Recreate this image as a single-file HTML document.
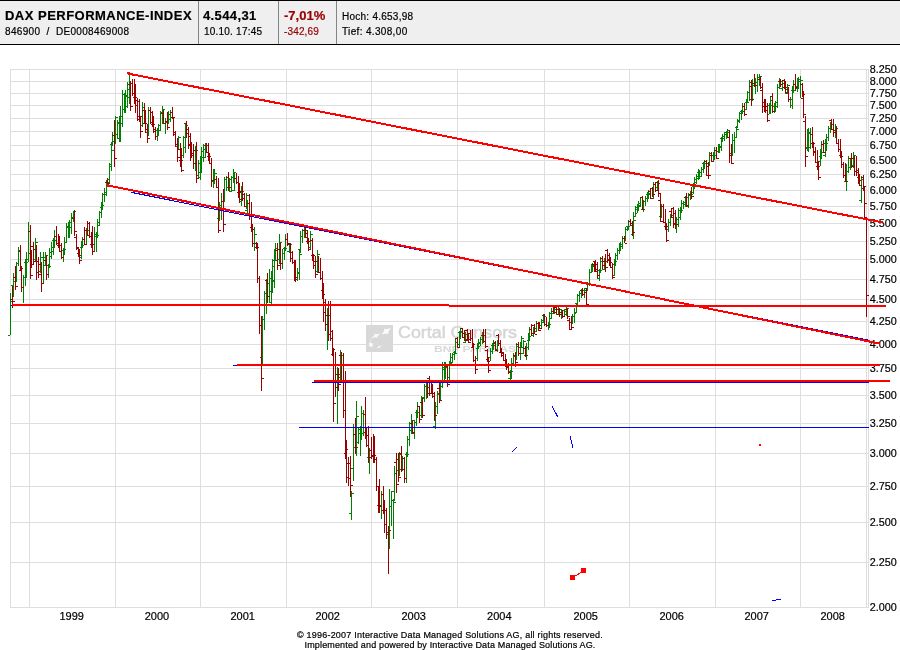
<!DOCTYPE html>
<html lang="de"><head><meta charset="utf-8"><title>DAX PERFORMANCE-INDEX</title>
<style>
html,body{margin:0;padding:0;background:#fff}
body{width:900px;height:650px;position:relative;overflow:hidden;font-family:"Liberation Sans",Arial,sans-serif;color:#000}
#hd{position:absolute;left:0;top:0;width:900px;height:43px;background:#efefef;border-top:1px solid #000;border-bottom:1px solid #000}
#hd .c{position:absolute;top:0;height:43px;border-left:1px solid #848484}
#hd .c.first{border-left:none}
#hd span{position:absolute;white-space:nowrap;line-height:1;-webkit-text-stroke:.2px currentColor}
.b{font-weight:bold;font-size:13px;top:8px}
.s{font-size:10px;top:26px}
.neg{color:#990000}
#ft{position:absolute;left:0;top:629.5px;-webkit-text-stroke:.2px #000;width:900px;text-align:center;font-size:9px;line-height:10px;}
</style></head><body>
<div id="hd">
<div class="c first" style="left:0;width:198px"><span class="b" style="left:5px;letter-spacing:0.48px" id="t1">DAX PERFORMANCE-INDEX</span><span class="s" style="left:5px;letter-spacing:0.33px" id="t2">846900 &nbsp;/ &nbsp;DE0008469008</span></div>
<div class="c" style="left:198px;width:79px"><span class="b" style="left:4px;letter-spacing:0.39px" id="t3">4.544,31</span><span class="s" style="left:5px;letter-spacing:0.22px" id="t4">10.10. 17:45</span></div>
<div class="c" style="left:278px;width:57px"><span class="b neg" style="left:5px;letter-spacing:0.03px" id="t5">-7,01%</span><span class="s neg" style="left:5px;letter-spacing:0.15px" id="t6">-342,69</span></div>
<div class="c" style="left:336px;width:563px"><span class="s" style="left:5px;top:11px;letter-spacing:0.25px" id="t7">Hoch: 4.653,98</span><span class="s" style="left:5px;top:26px;letter-spacing:0.34px" id="t8">Tief: 4.308,00</span></div>
</div>
<svg width="900" height="605" viewBox="0 45 900 605" style="position:absolute;left:0;top:45px" font-family="'Liberation Sans',Arial,sans-serif" font-size="11" fill="#000">
<g shape-rendering="crispEdges"><path d="M10 607.5H869M10 562.5H869M10 522.5H869M10 486.5H869M10 453.5H869M10 423.5H869M10 395.5H869M10 368.5H869M10 344.5H869M10 321.5H869M10 299.5H869M10 279.5H869M10 259.5H869M10 241.5H869M10 223.5H869M10 206.5H869M10 190.5H869M10 174.5H869M10 160.5H869M10 145.5H869M10 131.5H869M10 118.5H869M10 105.5H869M10 93.5H869M10 81.5H869M10 69.5H869M29.5 69V608M115.5 69V608M200.5 69V608M286.5 69V608M371.5 69V608M457.5 69V608M544.5 69V608M629.5 69V608M715.5 69V608M800.5 69V608M10.5 69V608M866.5 69V608M868.5 69V608" stroke="#dedede" fill="none"/></g>
<g><rect x="366" y="325" width="27" height="27" fill="#d8d8d8"/><polygon points="390.9,328.1 388.4,331.7 388.3,334.1 385.9,333.4 381.7,334.5 384.2,330.9 384.3,328.5 386.7,329.2" fill="#fff" opacity="0.95"/><polygon points="380.4,333.5 377.5,336.3 377.2,338.1 375.5,337.3 371.6,338.1 374.5,335.3 374.8,333.5 376.5,334.3" fill="#fff" opacity="0.85"/><polygon points="372.6,347.6 370.6,346.4 368.7,346.1 369.4,344.4 369.4,342.0 371.4,343.2 373.3,343.5 372.6,345.2" fill="#fff" opacity="0.85"/><polygon points="382.0,345.3 380.0,347.1 379.8,348.0 379.0,347.7 376.4,348.5 378.4,346.7 378.6,345.8 379.4,346.1" fill="#fff" opacity="0.85"/><path d="M372.500 337.500q-3.500 3.500-2.500 7" stroke="#fff" stroke-width=".8" fill="none" opacity=".45"/><text x="398" y="337.600" font-family="'Liberation Sans',sans-serif" fill="#d6d6d6" stroke="#d6d6d6" stroke-width=".5" textLength="119" lengthAdjust="spacingAndGlyphs" style="font-size:17px">Cortal Consors</text><text x="434" y="351.800" font-family="'Liberation Sans',sans-serif" font-weight="bold" fill="#d8d8d8" textLength="82" lengthAdjust="spacingAndGlyphs" style="font-size:9.500px">BNP PARIBAS</text></g>
<g shape-rendering="crispEdges">
<path d="M10.5 293V335M8 335.5h2M11 301.5h2M13.5 273V297M11 285.5h2M14 277.5h2M16.5 262V282M14 281.5h2M17 263.5h2M18.5 247V266M16 263.5h2M19 250.5h2M23.5 275V303M21 287.5h2M24 277.5h2M25.5 259V286M23 277.5h2M26 262.5h2M26.5 252V278M24 262.5h2M27 259.5h2M28.5 222V262M26 259.5h2M29 231.5h2M35.5 238V262M33 259.5h2M36 242.5h2M40.5 252V273M38 271.5h2M41 257.5h2M43.5 252V283M41 283.5h2M44 257.5h2M45.5 252V266M43 265.5h2M46 255.5h2M48.5 264V278M46 274.5h2M49 266.5h2M49.5 248V268M47 265.5h2M50 252.5h2M51.5 242V259M49 256.5h2M52 247.5h2M53.5 238V255M51 251.5h2M54 240.5h2M54.5 230V248M52 240.5h2M55 236.5h2M63.5 248V262M61 257.5h2M64 249.5h2M64.5 237V255M62 250.5h2M65 242.5h2M66.5 223V243M64 242.5h2M67 226.5h2M68.5 222V238M66 226.5h2M69 227.5h2M69.5 220V238M67 227.5h2M70 222.5h2M71.5 213V234M69 222.5h2M72 217.5h2M73.5 211V222M71 217.5h2M74 211.5h2M81.5 241V259M79 257.5h2M82 245.5h2M82.5 237V248M80 247.5h2M83 239.5h2M86.5 228V245M84 244.5h2M87 230.5h2M94.5 227V252M92 251.5h2M95 234.5h2M96.5 232V252M94 234.5h2M97 235.5h2M97.5 219V238M95 236.5h2M98 222.5h2M99.5 211V226M97 225.5h2M100 212.5h2M101.5 202V218M99 212.5h2M102 205.5h2M102.5 193V210M100 207.5h2M103 194.5h2M104.5 188V202M102 194.5h2M105 192.5h2M106.5 180V196M104 194.5h2M107 182.5h2M109.5 163V184M107 179.5h2M110 166.5h2M111.5 142V171M109 164.5h2M112 150.5h2M112.5 132V146M110 144.5h2M113 135.5h2M115.5 116V144M113 141.5h2M116 117.5h2M117.5 120V138M115 134.5h2M118 122.5h2M119.5 116V142M117 138.5h2M120 123.5h2M120.5 106V142M118 123.5h2M121 116.5h2M122.5 90V127M120 116.5h2M123 94.5h2M124.5 93V113M122 109.5h2M125 95.5h2M125.5 90V113M123 109.5h2M126 96.5h2M127.5 82V108M125 106.5h2M128 89.5h2M129.5 74V104M127 97.5h2M130 83.5h2M142.5 102V127M140 125.5h2M143 107.5h2M148.5 107V136M146 132.5h2M149 110.5h2M157.5 128V141M155 136.5h2M158 130.5h2M158.5 124V136M156 130.5h2M159 125.5h2M160.5 111V131M158 125.5h2M161 112.5h2M162.5 106V124M160 112.5h2M163 109.5h2M165.5 118V134M163 123.5h2M166 121.5h2M168.5 111V124M166 122.5h2M169 114.5h2M170.5 110V122M168 119.5h2M171 112.5h2M178.5 136V149M176 146.5h2M179 137.5h2M183.5 136V158M181 155.5h2M184 137.5h2M185.5 123V153M183 147.5h2M186 125.5h2M195.5 146V171M193 163.5h2M196 150.5h2M198.5 160V178M196 175.5h2M199 163.5h2M200.5 156V180M198 177.5h2M201 157.5h2M201.5 147V173M199 172.5h2M202 151.5h2M203.5 144V162M201 151.5h2M204 149.5h2M205.5 143V158M203 157.5h2M206 145.5h2M213.5 169V188M211 180.5h2M214 173.5h2M214.5 169V184M212 181.5h2M215 173.5h2M219.5 202V221M217 218.5h2M220 205.5h2M221.5 193V220M219 205.5h2M222 201.5h2M224.5 177V202M222 201.5h2M225 179.5h2M226.5 176V191M224 179.5h2M227 177.5h2M229.5 178V192M227 187.5h2M230 179.5h2M231.5 176V192M229 191.5h2M232 177.5h2M233.5 169V183M231 177.5h2M234 172.5h2M234.5 173V191M232 190.5h2M235 178.5h2M241.5 186V206M239 201.5h2M242 191.5h2M246.5 193V209M244 206.5h2M247 195.5h2M247.5 200V213M245 210.5h2M248 203.5h2M254.5 227V251M252 243.5h2M255 234.5h2M262.5 316V364M260 357.5h2M263 319.5h2M264.5 291V330M262 319.5h2M265 293.5h2M266.5 279V314M264 293.5h2M267 283.5h2M269.5 269V303M267 296.5h2M270 278.5h2M271.5 271V304M269 302.5h2M272 281.5h2M272.5 259V293M270 291.5h2M273 266.5h2M274.5 249V288M272 280.5h2M275 260.5h2M275.5 243V260M273 260.5h2M276 248.5h2M279.5 234V264M277 259.5h2M280 242.5h2M282.5 249V269M280 263.5h2M283 253.5h2M284.5 247V260M282 253.5h2M285 248.5h2M285.5 234V251M283 248.5h2M286 239.5h2M289.5 243V253M287 251.5h2M290 244.5h2M297.5 268V281M295 277.5h2M298 272.5h2M299.5 249V280M297 273.5h2M300 254.5h2M300.5 231V253M298 249.5h2M301 236.5h2M302.5 229V243M300 236.5h2M303 230.5h2M304.5 228V238M302 230.5h2M305 230.5h2M310.5 231V249M308 247.5h2M311 234.5h2M317.5 250V273M315 271.5h2M318 254.5h2M327.5 308V350M325 324.5h2M328 315.5h2M337.5 367V424M335 387.5h2M338 374.5h2M340.5 350V381M338 377.5h2M341 355.5h2M351.5 491V520M349 513.5h2M352 493.5h2M353.5 424V481M351 468.5h2M354 434.5h2M356.5 401V456M354 447.5h2M357 416.5h2M358.5 427V444M356 442.5h2M359 429.5h2M360.5 426V456M358 429.5h2M361 433.5h2M361.5 406V440M359 433.5h2M362 413.5h2M363.5 410V436M361 413.5h2M364 414.5h2M369.5 448V474M367 457.5h2M370 450.5h2M381.5 491V519M379 506.5h2M382 494.5h2M389.5 489V549M387 534.5h2M390 506.5h2M391.5 491V526M389 506.5h2M392 500.5h2M393.5 499V539M391 500.5h2M394 502.5h2M394.5 466V501M392 491.5h2M395 473.5h2M399.5 452V476M397 470.5h2M400 454.5h2M402.5 456V471M400 469.5h2M403 458.5h2M406.5 452V483M404 478.5h2M407 454.5h2M407.5 436V457M405 454.5h2M408 439.5h2M409.5 422V446M407 439.5h2M410 423.5h2M411.5 414V434M409 430.5h2M412 420.5h2M414.5 420V439M412 433.5h2M415 422.5h2M416.5 410V426M414 422.5h2M417 412.5h2M417.5 402V418M415 412.5h2M418 406.5h2M421.5 396V418M419 415.5h2M422 397.5h2M424.5 384V402M422 398.5h2M425 386.5h2M426.5 383V399M424 386.5h2M427 387.5h2M435.5 402V429M433 426.5h2M436 406.5h2M437.5 391V414M435 406.5h2M438 393.5h2M440.5 381V400M438 394.5h2M441 386.5h2M442.5 362V388M440 386.5h2M443 369.5h2M444.5 362V380M442 369.5h2M445 367.5h2M445.5 362V379M443 367.5h2M446 366.5h2M449.5 361V380M447 377.5h2M450 363.5h2M450.5 353V366M448 365.5h2M451 357.5h2M452.5 353V363M450 362.5h2M453 354.5h2M454.5 351V360M452 354.5h2M455 353.5h2M455.5 339V354M453 352.5h2M456 342.5h2M459.5 331V347M457 344.5h2M460 332.5h2M460.5 328V339M458 332.5h2M461 331.5h2M465.5 332V343M463 342.5h2M466 334.5h2M477.5 343V361M475 358.5h2M478 346.5h2M478.5 339V349M476 348.5h2M479 342.5h2M480.5 337V346M478 343.5h2M481 339.5h2M482.5 332V344M480 339.5h2M483 335.5h2M490.5 348V361M488 357.5h2M491 351.5h2M492.5 343V354M490 351.5h2M493 345.5h2M493.5 340V350M491 345.5h2M494 342.5h2M497.5 340V352M495 349.5h2M498 343.5h2M510.5 370V380M508 378.5h2M511 371.5h2M511.5 358V379M509 371.5h2M512 363.5h2M513.5 353V366M511 363.5h2M514 355.5h2M516.5 343V360M514 356.5h2M517 346.5h2M520.5 342V360M518 353.5h2M521 347.5h2M521.5 336V348M519 347.5h2M522 338.5h2M523.5 340V354M521 353.5h2M524 341.5h2M526.5 343V360M524 355.5h2M527 347.5h2M528.5 333V350M526 347.5h2M529 336.5h2M529.5 327V341M527 340.5h2M530 329.5h2M533.5 327V337M531 335.5h2M534 328.5h2M536.5 321V332M534 331.5h2M537 323.5h2M541.5 319V328M539 325.5h2M542 320.5h2M543.5 314V323M541 322.5h2M544 316.5h2M548.5 322V330M546 325.5h2M549 324.5h2M549.5 312V328M547 325.5h2M550 313.5h2M551.5 308V319M549 318.5h2M552 311.5h2M554.5 308V314M552 313.5h2M555 309.5h2M558.5 307V314M556 314.5h2M559 309.5h2M561.5 309V319M559 314.5h2M562 310.5h2M564.5 309V317M562 316.5h2M565 311.5h2M566.5 307V316M564 314.5h2M567 308.5h2M572.5 314V324M570 322.5h2M573 316.5h2M574.5 308V323M572 316.5h2M575 312.5h2M576.5 303V313M574 313.5h2M577 306.5h2M577.5 294V306M575 303.5h2M578 295.5h2M579.5 291V302M577 295.5h2M580 293.5h2M581.5 289V298M579 293.5h2M582 290.5h2M584.5 288V298M582 294.5h2M585 288.5h2M587.5 282V291M585 290.5h2M588 284.5h2M589.5 269V286M587 284.5h2M590 272.5h2M591.5 264V273M589 272.5h2M592 266.5h2M592.5 263V272M590 272.5h2M593 265.5h2M599.5 269V281M597 278.5h2M600 270.5h2M600.5 257V273M598 270.5h2M601 261.5h2M604.5 258V270M602 269.5h2M605 261.5h2M614.5 259V276M612 275.5h2M615 261.5h2M615.5 253V266M613 264.5h2M616 255.5h2M617.5 248V260M615 255.5h2M618 250.5h2M619.5 243V254M617 250.5h2M620 246.5h2M620.5 242V251M618 250.5h2M621 244.5h2M622.5 236V249M620 246.5h2M623 238.5h2M625.5 227V241M623 238.5h2M626 229.5h2M627.5 226V231M625 229.5h2M628 226.5h2M628.5 220V230M626 226.5h2M629 221.5h2M633.5 212V239M631 234.5h2M634 220.5h2M635.5 206V217M633 216.5h2M636 207.5h2M637.5 204V213M635 213.5h2M638 205.5h2M638.5 201V211M636 209.5h2M639 203.5h2M640.5 197V207M638 206.5h2M641 197.5h2M643.5 200V212M641 209.5h2M644 201.5h2M645.5 196V206M643 201.5h2M646 198.5h2M647.5 192V202M645 198.5h2M648 194.5h2M648.5 190V199M646 194.5h2M649 193.5h2M653.5 182V199M651 198.5h2M654 184.5h2M657.5 181V190M655 187.5h2M658 183.5h2M661.5 204V218M659 216.5h2M662 206.5h2M668.5 219V232M666 229.5h2M669 222.5h2M670.5 214V226M668 222.5h2M671 215.5h2M676.5 217V233M674 224.5h2M677 219.5h2M678.5 208V227M676 219.5h2M679 210.5h2M680.5 207V220M678 217.5h2M681 210.5h2M681.5 200V213M679 210.5h2M682 203.5h2M683.5 201V209M681 203.5h2M684 202.5h2M685.5 196V207M683 204.5h2M686 197.5h2M688.5 193V208M686 206.5h2M689 195.5h2M690.5 191V200M688 195.5h2M691 194.5h2M693.5 183V194M691 192.5h2M694 186.5h2M694.5 177V189M692 186.5h2M695 179.5h2M696.5 174V184M694 182.5h2M697 176.5h2M698.5 169V180M696 178.5h2M699 172.5h2M699.5 170V179M697 172.5h2M700 172.5h2M701.5 167V177M699 176.5h2M702 169.5h2M703.5 162V173M701 169.5h2M704 163.5h2M704.5 160V169M702 163.5h2M705 163.5h2M709.5 152V166M707 163.5h2M710 153.5h2M713.5 152V161M711 161.5h2M714 155.5h2M714.5 147V160M712 155.5h2M715 150.5h2M718.5 144V153M716 151.5h2M719 147.5h2M719.5 144V153M717 151.5h2M720 146.5h2M721.5 137V151M719 146.5h2M722 138.5h2M722.5 134V142M720 138.5h2M723 136.5h2M724.5 132V141M722 136.5h2M725 134.5h2M726.5 131V139M724 134.5h2M727 132.5h2M727.5 129V137M725 132.5h2M728 130.5h2M732.5 134V156M730 153.5h2M733 140.5h2M734.5 132V153M732 140.5h2M735 137.5h2M736.5 126V138M734 137.5h2M737 129.5h2M737.5 119V128M735 127.5h2M738 120.5h2M739.5 112V123M737 121.5h2M740 113.5h2M741.5 110V120M739 113.5h2M742 111.5h2M742.5 103V114M740 111.5h2M743 106.5h2M746.5 99V110M744 109.5h2M747 102.5h2M747.5 91V103M745 102.5h2M748 92.5h2M749.5 80V101M747 92.5h2M750 82.5h2M752.5 79V101M750 99.5h2M753 83.5h2M755.5 78V94M753 85.5h2M756 82.5h2M757.5 74V92M755 82.5h2M758 77.5h2M759.5 74V86M757 77.5h2M760 76.5h2M769.5 103V114M767 114.5h2M770 105.5h2M770.5 97V114M768 105.5h2M771 100.5h2M774.5 103V113M772 111.5h2M775 106.5h2M775.5 101V112M773 106.5h2M776 102.5h2M777.5 84V108M775 102.5h2M778 87.5h2M779.5 78V89M777 87.5h2M780 81.5h2M782.5 80V91M780 88.5h2M783 83.5h2M787.5 84V94M785 93.5h2M788 85.5h2M790.5 97V108M788 99.5h2M791 99.5h2M792.5 86V109M790 105.5h2M793 90.5h2M793.5 80V93M791 90.5h2M794 84.5h2M797.5 78V92M795 88.5h2M798 81.5h2M798.5 77V89M796 86.5h2M799 79.5h2M800.5 76V98M798 79.5h2M801 80.5h2M807.5 129V151M805 147.5h2M808 132.5h2M808.5 128V152M806 148.5h2M809 133.5h2M810.5 128V149M808 147.5h2M811 134.5h2M820.5 149V166M818 161.5h2M821 152.5h2M821.5 141V159M819 156.5h2M822 144.5h2M825.5 139V157M823 155.5h2M826 143.5h2M826.5 134V151M824 143.5h2M827 137.5h2M828.5 126V141M826 137.5h2M829 128.5h2M830.5 122V133M828 128.5h2M831 124.5h2M835.5 124V138M833 132.5h2M836 128.5h2M846.5 164V191M844 181.5h2M847 171.5h2M848.5 156V173M846 171.5h2M849 158.5h2M850.5 158V170M848 167.5h2M851 158.5h2M853.5 152V168M851 165.5h2M854 155.5h2M861.5 176V203M859 200.5h2M862 179.5h2" stroke="#008000" fill="none"/>
<path d="M12.5 286V308M10 299.5h2M13 301.5h2M15.5 266V290M13 277.5h2M16 286.5h2M20.5 245V271M18 251.5h2M21 268.5h2M21.5 266V292M19 270.5h2M22 287.5h2M30.5 225V279M28 231.5h2M31 275.5h2M31.5 250V268M29 253.5h2M32 264.5h2M33.5 242V264M31 246.5h2M34 261.5h2M36.5 245V280M34 249.5h2M37 272.5h2M38.5 257V278M36 261.5h2M39 274.5h2M41.5 262V292M39 264.5h2M42 283.5h2M46.5 255V280M44 260.5h2M47 274.5h2M56.5 226V245M54 236.5h2M57 243.5h2M58.5 234V248M56 243.5h2M59 245.5h2M59.5 236V252M57 245.5h2M60 251.5h2M61.5 243V259M59 245.5h2M62 257.5h2M74.5 210V236M72 218.5h2M75 231.5h2M76.5 234V250M74 237.5h2M77 247.5h2M78.5 248V257M76 248.5h2M79 255.5h2M79.5 249V264M77 253.5h2M80 260.5h2M84.5 227V245M82 239.5h2M85 244.5h2M87.5 221V236M85 230.5h2M88 235.5h2M89.5 222V238M87 223.5h2M90 236.5h2M91.5 232V248M89 236.5h2M92 244.5h2M92.5 226V255M90 244.5h2M93 251.5h2M107.5 178V184M105 182.5h2M108 183.5h2M114.5 120V167M112 135.5h2M115 158.5h2M130.5 81V111M128 84.5h2M131 106.5h2M132.5 79V96M130 83.5h2M133 93.5h2M134.5 79V104M132 93.5h2M135 97.5h2M135.5 84V113M133 97.5h2M136 105.5h2M137.5 98V121M135 100.5h2M138 119.5h2M139.5 99V122M137 101.5h2M140 116.5h2M140.5 116V138M138 116.5h2M141 131.5h2M144.5 103V124M142 110.5h2M145 123.5h2M145.5 110V133M143 123.5h2M146 129.5h2M147.5 124V143M145 129.5h2M148 138.5h2M150.5 107V124M148 110.5h2M151 122.5h2M152.5 111V127M150 112.5h2M153 124.5h2M153.5 116V133M151 124.5h2M154 131.5h2M155.5 127V140M153 129.5h2M156 136.5h2M163.5 110V124M161 113.5h2M164 123.5h2M167.5 112V130M165 121.5h2M168 127.5h2M172.5 107V119M170 112.5h2M173 117.5h2M173.5 117V136M171 117.5h2M174 132.5h2M175.5 131V147M173 134.5h2M176 144.5h2M177.5 138V162M175 144.5h2M178 157.5h2M180.5 143V167M178 149.5h2M181 160.5h2M181.5 148V172M179 160.5h2M182 170.5h2M186.5 121V138M184 123.5h2M187 133.5h2M188.5 127V149M186 129.5h2M189 144.5h2M190.5 133V161M188 136.5h2M191 153.5h2M191.5 142V158M189 145.5h2M192 155.5h2M193.5 144V169M191 155.5h2M194 163.5h2M196.5 142V183M194 150.5h2M197 178.5h2M206.5 143V153M204 145.5h2M207 152.5h2M208.5 143V161M206 152.5h2M209 156.5h2M209.5 153V164M207 156.5h2M210 163.5h2M211.5 158V187M209 163.5h2M212 180.5h2M216.5 176V188M214 179.5h2M217 187.5h2M218.5 178V233M216 187.5h2M219 230.5h2M223.5 189V232M221 201.5h2M224 224.5h2M228.5 172V191M226 177.5h2M229 187.5h2M236.5 173V184M234 178.5h2M237 182.5h2M238.5 176V198M236 182.5h2M239 192.5h2M239.5 183V203M237 192.5h2M240 199.5h2M242.5 182V201M240 191.5h2M243 198.5h2M244.5 193V207M242 194.5h2M245 206.5h2M249.5 194V220M247 203.5h2M250 214.5h2M251.5 202V232M249 214.5h2M252 229.5h2M252.5 224V247M250 227.5h2M253 243.5h2M256.5 242V249M254 243.5h2M257 247.5h2M257.5 243V283M255 247.5h2M258 278.5h2M259.5 276V334M257 278.5h2M260 325.5h2M261.5 316V391M259 325.5h2M262 378.5h2M267.5 273V303M265 280.5h2M268 296.5h2M277.5 243V270M275 250.5h2M278 265.5h2M280.5 243V270M278 249.5h2M281 263.5h2M287.5 233V246M285 239.5h2M288 243.5h2M290.5 243V262M288 244.5h2M291 258.5h2M292.5 251V264M290 252.5h2M293 262.5h2M294.5 260V281M292 262.5h2M295 279.5h2M295.5 260V282M293 262.5h2M296 277.5h2M305.5 228V238M303 230.5h2M306 237.5h2M307.5 230V244M305 233.5h2M308 241.5h2M308.5 238V251M306 241.5h2M309 249.5h2M312.5 238V261M310 240.5h2M313 255.5h2M313.5 254V269M311 255.5h2M314 265.5h2M315.5 256V278M313 261.5h2M316 274.5h2M318.5 256V273M316 261.5h2M319 272.5h2M320.5 258V280M318 272.5h2M321 278.5h2M322.5 271V299M320 278.5h2M323 294.5h2M323.5 283V322M321 290.5h2M324 312.5h2M325.5 299V331M323 302.5h2M326 324.5h2M328.5 301V341M326 315.5h2M329 334.5h2M330.5 301V341M328 334.5h2M331 338.5h2M332.5 330V356M330 331.5h2M333 349.5h2M333.5 348V422M331 354.5h2M334 403.5h2M335.5 352V397M333 364.5h2M336 387.5h2M338.5 368V391M336 374.5h2M339 384.5h2M341.5 352V383M339 355.5h2M342 381.5h2M343.5 353V418M341 381.5h2M344 410.5h2M345.5 371V459M343 410.5h2M346 449.5h2M346.5 440V483M344 453.5h2M347 477.5h2M348.5 457V486M346 463.5h2M349 478.5h2M350.5 456V497M348 463.5h2M351 485.5h2M355.5 418V454M353 434.5h2M356 447.5h2M365.5 397V439M363 414.5h2M366 435.5h2M366.5 427V447M364 432.5h2M367 445.5h2M368.5 426V463M366 445.5h2M369 457.5h2M371.5 437V459M369 450.5h2M372 456.5h2M373.5 434V463M371 456.5h2M374 455.5h2M374.5 436V463M372 455.5h2M375 459.5h2M376.5 457V491M374 459.5h2M377 486.5h2M378.5 486V513M376 486.5h2M379 505.5h2M379.5 479V513M377 505.5h2M380 506.5h2M383.5 486V514M381 494.5h2M384 510.5h2M384.5 500V533M382 510.5h2M385 524.5h2M386.5 508V539M384 524.5h2M387 532.5h2M388.5 526V574M386 532.5h2M389 530.5h2M396.5 453V493M394 462.5h2M397 484.5h2M398.5 453V482M396 459.5h2M399 477.5h2M401.5 446V472M399 453.5h2M402 469.5h2M404.5 457V483M402 458.5h2M405 478.5h2M412.5 421V434M410 423.5h2M413 432.5h2M419.5 406V423M417 406.5h2M420 419.5h2M422.5 398V418M420 402.5h2M423 415.5h2M427.5 380V398M425 382.5h2M428 393.5h2M429.5 376V396M427 378.5h2M430 393.5h2M431.5 380V394M429 393.5h2M432 393.5h2M432.5 384V398M430 393.5h2M433 396.5h2M434.5 392V421M432 396.5h2M435 415.5h2M439.5 382V403M437 388.5h2M440 400.5h2M447.5 366V387M445 366.5h2M448 384.5h2M457.5 337V348M455 338.5h2M458 347.5h2M462.5 328V338M460 328.5h2M463 337.5h2M464.5 330V341M462 333.5h2M465 340.5h2M467.5 329V341M465 330.5h2M468 339.5h2M468.5 333V343M466 339.5h2M469 342.5h2M470.5 330V341M468 333.5h2M471 338.5h2M472.5 329V348M470 338.5h2M473 344.5h2M473.5 343V362M471 347.5h2M474 360.5h2M475.5 356V374M473 360.5h2M476 369.5h2M483.5 329V343M481 335.5h2M484 341.5h2M485.5 329V348M483 341.5h2M486 346.5h2M487.5 349V362M485 350.5h2M488 361.5h2M488.5 357V373M486 359.5h2M489 370.5h2M495.5 341V351M493 343.5h2M496 350.5h2M498.5 334V346M496 335.5h2M499 343.5h2M500.5 340V353M498 343.5h2M501 352.5h2M501.5 348V357M499 352.5h2M502 355.5h2M503.5 352V361M501 353.5h2M504 360.5h2M505.5 354V367M503 360.5h2M506 364.5h2M506.5 359V370M504 364.5h2M507 367.5h2M508.5 363V374M506 366.5h2M509 372.5h2M515.5 352V367M513 355.5h2M516 362.5h2M518.5 342V356M516 344.5h2M519 353.5h2M525.5 346V357M523 348.5h2M526 355.5h2M531.5 324V336M529 329.5h2M532 333.5h2M534.5 324V334M532 325.5h2M535 334.5h2M538.5 322V331M536 323.5h2M539 330.5h2M539.5 322V329M537 323.5h2M540 328.5h2M544.5 314V326M542 315.5h2M545 324.5h2M546.5 317V327M544 324.5h2M547 325.5h2M553.5 307V313M551 311.5h2M554 312.5h2M556.5 306V314M554 307.5h2M557 314.5h2M559.5 308V317M557 309.5h2M560 314.5h2M562.5 310V318M560 312.5h2M563 316.5h2M567.5 308V319M565 309.5h2M568 316.5h2M569.5 318V330M567 320.5h2M570 329.5h2M571.5 316V330M569 329.5h2M572 327.5h2M582.5 288V296M580 290.5h2M583 294.5h2M586.5 288V306M584 292.5h2M587 304.5h2M594.5 261V272M592 264.5h2M595 271.5h2M595.5 260V271M593 261.5h2M596 269.5h2M597.5 262V278M595 264.5h2M598 275.5h2M602.5 256V269M600 258.5h2M603 265.5h2M605.5 254V272M603 261.5h2M606 267.5h2M607.5 249V263M605 250.5h2M608 260.5h2M609.5 253V266M607 255.5h2M610 262.5h2M610.5 257V268M608 259.5h2M611 267.5h2M612.5 263V279M610 267.5h2M613 277.5h2M624.5 236V243M622 238.5h2M625 243.5h2M630.5 219V226M628 221.5h2M631 225.5h2M632.5 221V236M630 223.5h2M633 232.5h2M642.5 196V210M640 197.5h2M643 209.5h2M650.5 189V199M648 191.5h2M651 198.5h2M652.5 187V197M650 188.5h2M653 194.5h2M655.5 182V192M653 184.5h2M656 190.5h2M658.5 180V197M656 182.5h2M659 193.5h2M660.5 194V222M658 200.5h2M661 221.5h2M663.5 204V223M661 206.5h2M664 222.5h2M665.5 209V230M663 222.5h2M666 226.5h2M666.5 223V242M664 226.5h2M667 240.5h2M671.5 208V218M669 211.5h2M672 217.5h2M673.5 207V228M671 208.5h2M674 223.5h2M675.5 210V229M673 213.5h2M676 224.5h2M686.5 193V207M684 197.5h2M687 205.5h2M691.5 187V199M689 194.5h2M692 196.5h2M706.5 160V176M704 161.5h2M707 175.5h2M708.5 162V179M706 166.5h2M709 175.5h2M711.5 152V162M709 155.5h2M712 161.5h2M716.5 147V159M714 150.5h2M717 158.5h2M729.5 130V163M727 137.5h2M730 155.5h2M731.5 144V164M729 155.5h2M732 163.5h2M744.5 103V116M742 106.5h2M745 114.5h2M751.5 80V106M749 86.5h2M752 99.5h2M754.5 74V87M752 83.5h2M755 85.5h2M760.5 77V89M758 79.5h2M761 87.5h2M762.5 83V113M760 90.5h2M763 106.5h2M764.5 99V112M762 106.5h2M765 110.5h2M765.5 99V113M763 102.5h2M766 110.5h2M767.5 103V122M765 106.5h2M768 120.5h2M772.5 93V113M770 96.5h2M773 111.5h2M780.5 79V87M778 81.5h2M781 84.5h2M784.5 79V89M782 80.5h2M785 87.5h2M785.5 81V93M783 87.5h2M786 92.5h2M788.5 87V102M786 89.5h2M789 99.5h2M795.5 74V91M793 84.5h2M796 87.5h2M802.5 83V97M800 84.5h2M803 94.5h2M803.5 91V118M801 98.5h2M804 114.5h2M805.5 116V167M803 121.5h2M806 156.5h2M812.5 127V148M810 134.5h2M813 143.5h2M813.5 142V156M811 143.5h2M814 152.5h2M815.5 147V163M813 151.5h2M816 162.5h2M817.5 150V170M815 162.5h2M818 166.5h2M818.5 161V180M816 166.5h2M819 177.5h2M823.5 140V153M821 144.5h2M824 152.5h2M831.5 119V130M829 120.5h2M832 129.5h2M833.5 119V137M831 129.5h2M834 132.5h2M836.5 126V144M834 130.5h2M837 143.5h2M838.5 139V152M836 143.5h2M839 149.5h2M840.5 139V158M838 149.5h2M841 156.5h2M841.5 151V168M839 155.5h2M842 164.5h2M843.5 162V178M841 164.5h2M844 175.5h2M845.5 163V182M843 175.5h2M846 181.5h2M851.5 153V168M849 158.5h2M852 166.5h2M854.5 156V176M852 158.5h2M855 171.5h2M856.5 156V176M854 171.5h2M857 170.5h2M858.5 168V184M856 172.5h2M859 180.5h2M859.5 174V186M857 177.5h2M860 185.5h2M863.5 175V191M861 177.5h2M864 186.5h2M864.5 186V217M862 188.5h2M865 203.5h2M866.5 217V317M864 217.5h2M867 295.5h2" stroke="#990000" fill="none"/>
</g>
<g style="font-size:11px" stroke="#000" stroke-width=".2">
<text x="869.7" y="611.0" textLength="27" lengthAdjust="spacingAndGlyphs">2.000</text><text x="869.7" y="566.3" textLength="27" lengthAdjust="spacingAndGlyphs">2.250</text><text x="869.7" y="526.3" textLength="27" lengthAdjust="spacingAndGlyphs">2.500</text><text x="869.7" y="490.1" textLength="27" lengthAdjust="spacingAndGlyphs">2.750</text><text x="869.7" y="457.1" textLength="27" lengthAdjust="spacingAndGlyphs">3.000</text><text x="869.7" y="426.7" textLength="27" lengthAdjust="spacingAndGlyphs">3.250</text><text x="869.7" y="398.5" textLength="27" lengthAdjust="spacingAndGlyphs">3.500</text><text x="869.7" y="372.3" textLength="27" lengthAdjust="spacingAndGlyphs">3.750</text><text x="869.7" y="347.8" textLength="27" lengthAdjust="spacingAndGlyphs">4.000</text><text x="869.7" y="324.8" textLength="27" lengthAdjust="spacingAndGlyphs">4.250</text><text x="869.7" y="303.1" textLength="27" lengthAdjust="spacingAndGlyphs">4.500</text><text x="869.7" y="282.6" textLength="27" lengthAdjust="spacingAndGlyphs">4.750</text><text x="869.7" y="263.1" textLength="27" lengthAdjust="spacingAndGlyphs">5.000</text><text x="869.7" y="244.6" textLength="27" lengthAdjust="spacingAndGlyphs">5.250</text><text x="869.7" y="226.9" textLength="27" lengthAdjust="spacingAndGlyphs">5.500</text><text x="869.7" y="210.1" textLength="27" lengthAdjust="spacingAndGlyphs">5.750</text><text x="869.7" y="193.9" textLength="27" lengthAdjust="spacingAndGlyphs">6.000</text><text x="869.7" y="178.4" textLength="27" lengthAdjust="spacingAndGlyphs">6.250</text><text x="869.7" y="163.5" textLength="27" lengthAdjust="spacingAndGlyphs">6.500</text><text x="869.7" y="149.2" textLength="27" lengthAdjust="spacingAndGlyphs">6.750</text><text x="869.7" y="135.4" textLength="27" lengthAdjust="spacingAndGlyphs">7.000</text><text x="869.7" y="122.1" textLength="27" lengthAdjust="spacingAndGlyphs">7.250</text><text x="869.7" y="109.2" textLength="27" lengthAdjust="spacingAndGlyphs">7.500</text><text x="869.7" y="96.7" textLength="27" lengthAdjust="spacingAndGlyphs">7.750</text><text x="869.7" y="84.7" textLength="27" lengthAdjust="spacingAndGlyphs">8.000</text><text x="869.7" y="73.0" textLength="27" lengthAdjust="spacingAndGlyphs">8.250</text>
<text x="59.4" y="620">1999</text><text x="144.7" y="620">2000</text><text x="230.4" y="620">2001</text><text x="315.4" y="620">2002</text><text x="401.4" y="620">2003</text><text x="487.1" y="620">2004</text><text x="573.4" y="620">2005</text><text x="659.4" y="620">2006</text><text x="744.4" y="620">2007</text><text x="820.4" y="620">2008</text>
</g>
<g shape-rendering="crispEdges">
<line x1="131" y1="192.3" x2="869" y2="340.3" stroke="#0000ff" stroke-width="1"/><line x1="299" y1="427.5" x2="869" y2="427.5" stroke="#0000ff" stroke-width="1"/><line x1="312" y1="382.5" x2="869" y2="382.5" stroke="#0000ff" stroke-width="1"/><line x1="233" y1="365.5" x2="240" y2="365.5" stroke="#0000ff" stroke-width="1"/><line x1="552" y1="406" x2="557.7" y2="416.7" stroke="#0000ff" stroke-width="1"/><line x1="570.3" y1="436.3" x2="572.7" y2="447.6" stroke="#0000ff" stroke-width="1"/><line x1="512.3" y1="451.7" x2="516.8" y2="447.1" stroke="#0000ff" stroke-width="1"/><line x1="772" y1="600.5" x2="781" y2="599.5" stroke="#0000ff" stroke-width="1"/><line x1="11" y1="305.5" x2="13" y2="305.5" stroke="#0000ff" stroke-width="1"/><line x1="128" y1="73.6" x2="883" y2="222.5" stroke="#ff0000" stroke-width="2"/><line x1="107" y1="185.22" x2="880" y2="343.68" stroke="#ff0000" stroke-width="2"/><rect x="107" y="184" width="2" height="3" fill="#ff0000"/><line x1="12" y1="304.5" x2="449" y2="304.5" stroke="#ff0000" stroke-width="2"/><line x1="449" y1="305.5" x2="886" y2="305.5" stroke="#ff0000" stroke-width="2"/><line x1="236.7" y1="365" x2="880" y2="365" stroke="#ff0000" stroke-width="2"/><line x1="314" y1="381" x2="890" y2="381" stroke="#ff0000" stroke-width="2"/><rect x="570" y="575" width="5" height="5" fill="#ff0000"/><rect x="581" y="568" width="5" height="5" fill="#ff0000"/><line x1="575" y1="576" x2="581" y2="572.5" stroke="#ff0000" stroke-width="1"/><rect x="759" y="444" width="2" height="2" fill="#ff0000"/><rect x="127" y="72" width="3" height="2" fill="#ff0000"/>
</g>
</svg>
<div id="ft"><div id="f1" style="letter-spacing:.214px">© 1996-2007 Interactive Data Managed Solutions AG, all rights reserved.</div><div id="f2" style="letter-spacing:.15px">Implemented and powered by Interactive Data Managed Solutions AG.</div></div>
</body></html>
